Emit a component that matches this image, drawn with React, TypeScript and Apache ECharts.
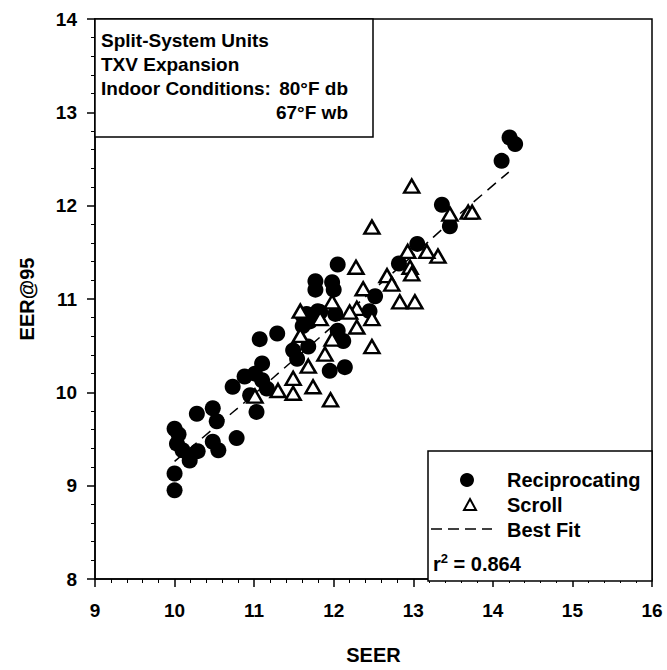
import React, { useEffect, useRef } from "react";
import * as echarts from "echarts";

const recipX = [10.0, 10.0, 10.0, 10.03, 10.1, 10.19, 10.05, 10.29, 10.28, 10.48, 10.53, 10.48, 10.55, 10.78, 10.73, 10.88, 11.03, 11.1, 11.01, 10.95, 11.1, 11.16, 11.07, 11.29, 11.49, 11.54, 11.68, 11.61, 11.7, 11.83, 11.77, 11.77, 11.98, 12.0, 12.05, 11.66, 11.8, 12.02, 11.61, 12.05, 12.12, 11.95, 12.14, 12.52, 12.45, 12.82, 13.05, 13.36, 13.46, 14.21, 14.28, 14.11];
const recipY = [8.95, 9.13, 9.61, 9.45, 9.38, 9.27, 9.55, 9.37, 9.77, 9.83, 9.69, 9.47, 9.38, 9.51, 10.06, 10.17, 9.79, 10.31, 10.2, 9.97, 10.13, 10.04, 10.57, 10.63, 10.45, 10.36, 10.49, 10.82, 10.76, 10.86, 11.19, 11.1, 11.18, 11.1, 11.37, 10.84, 10.87, 10.84, 10.71, 10.66, 10.55, 10.23, 10.27, 11.03, 10.87, 11.38, 11.59, 12.01, 11.78, 12.73, 12.66, 12.48];

const scrollX = [12.98, 12.48, 12.28, 12.37, 12.67, 12.73, 12.96, 12.98, 13.31, 13.17, 12.93, 12.83, 13.02, 12.48, 12.29, 12.2, 12.29, 12.48, 11.58, 11.83, 11.98, 11.58, 11.98, 11.89, 11.68, 11.49, 11.74, 11.3, 11.96, 11.49, 11.01, 13.46, 13.69, 13.74];
const scrollY = [12.21, 11.77, 11.34, 11.11, 11.25, 11.16, 11.34, 11.27, 11.46, 11.51, 11.51, 10.97, 10.97, 10.79, 10.9, 10.86, 10.7, 10.49, 10.87, 10.79, 10.97, 10.61, 10.57, 10.41, 10.28, 10.15, 10.06, 10.02, 9.92, 9.99, 9.96, 11.91, 11.93, 11.93];

const fitX = [10.0, 10.5, 11.0, 11.5, 12.0, 12.5, 13.0, 13.5, 14.2];
const fitY = [9.26, 9.62, 9.98, 10.35, 10.72, 11.1, 11.47, 11.85, 12.36];

const xTicks = [9, 10, 11, 12, 13, 14, 15, 16];
const yTicks = [8, 9, 10, 11, 12, 13, 14];

const boxLines = ["Split-System Units", "TXV Expansion", "Indoor Conditions:"];
const legendNames = ["Reciprocating", "Scroll", "Best Fit"];
const r2Value = "0.864";

const FONT = "'Liberation Sans', Arial, sans-serif";

export default function App() {
  const ref = useRef<HTMLDivElement>(null);
  useEffect(() => {
    document.body.style.margin = "0";
    const chart = echarts.init(ref.current!, undefined, { renderer: "svg" });
    const zip = (xs: number[], ys: number[]) => xs.map((x, i) => [x, ys[i]]);
    const txt = (text: string, x: number, y: number, extra: any = {}) => ({
      type: "text",
      x,
      y,
      z: 12,
      style: {
        text,
        font: `bold 19px ${FONT}`,
        fill: "#000",
        textVerticalAlign: "middle",
        ...extra,
      },
    });
    const axisText = { fontSize: 19, fontWeight: "bold", color: "#000", fontFamily: FONT };
    chart.setOption({
      animation: false,
      backgroundColor: "#fff",
      textStyle: { fontFamily: FONT },
      grid: { left: 95, right: 15, top: 19, bottom: 89, show: true, borderColor: "#000", borderWidth: 1.5 },
      xAxis: {
        type: "value",
        min: xTicks[0],
        max: xTicks[xTicks.length - 1],
        interval: 1,
        name: "SEER",
        nameLocation: "middle",
        nameGap: 66,
        nameTextStyle: { ...axisText, fontSize: 20 },
        axisLine: { lineStyle: { color: "#000", width: 1.5 } },
        axisTick: { length: 8, lineStyle: { color: "#000", width: 1.5 } },
        minorTick: { show: true, splitNumber: 5, length: 4, lineStyle: { color: "#000", width: 1 } },
        splitLine: { show: false },
        axisLabel: { ...axisText, margin: 22 },
      },
      yAxis: {
        type: "value",
        min: yTicks[0],
        max: yTicks[yTicks.length - 1],
        interval: 1,
        name: "EER@95",
        nameLocation: "middle",
        nameGap: 58,
        nameTextStyle: { ...axisText, fontSize: 20 },
        axisLine: { lineStyle: { color: "#000", width: 1.5 } },
        axisTick: { length: 8, lineStyle: { color: "#000", width: 1.5 } },
        minorTick: { show: true, splitNumber: 5, length: 4, lineStyle: { color: "#000", width: 1 } },
        splitLine: { show: false },
        axisLabel: { ...axisText, margin: 18 },
      },
      series: [
        {
          name: legendNames[2],
          type: "line",
          data: zip(fitX, fitY),
          symbol: "none",
          smooth: true,
          lineStyle: { color: "#000", width: 1.5, type: [11, 7] },
          z: 1,
        },
        {
          name: legendNames[0],
          type: "scatter",
          data: zip(recipX, recipY),
          symbol: "circle",
          symbolSize: 16,
          itemStyle: { color: "#000", opacity: 1 },
          z: 2,
        },
        {
          name: legendNames[1],
          type: "scatter",
          data: zip(scrollX, scrollY),
          symbol: "triangle",
          symbolSize: [15, 13],
          itemStyle: { color: "#fff", borderColor: "#000", borderWidth: 2.5, opacity: 1 },
          z: 3,
        },
      ],
      graphic: [
        { type: "rect", z: 10, shape: { x: 95, y: 19, width: 278, height: 118 }, style: { fill: "#fff", stroke: "#000", lineWidth: 1.5 } },
        txt(boxLines[0], 101, 40),
        txt(boxLines[1], 101, 64),
        txt(boxLines[2], 101, 88),
        txt("80°F db", 348, 88, { textAlign: "right" }),
        txt("67°F wb", 348, 112, { textAlign: "right" }),
        { type: "rect", z: 10, shape: { x: 428, y: 451, width: 224, height: 130 }, style: { fill: "#fff", stroke: "#000", lineWidth: 1.5 } },
        { type: "circle", z: 12, shape: { cx: 467, cy: 480, r: 7 }, style: { fill: "#000" } },
        { type: "polygon", z: 12, shape: { points: [[470, 499], [476, 510], [464, 510]] }, style: { fill: "#fff", stroke: "#000", lineWidth: 2 } },
        { type: "line", z: 12, shape: { x1: 431, y1: 529, x2: 492, y2: 529 }, style: { stroke: "#000", lineWidth: 1.5, lineDash: [11, 6] } },
        txt(legendNames[0], 507, 480, { font: `bold 20px ${FONT}` }),
        txt(legendNames[1], 507, 505, { font: `bold 20px ${FONT}` }),
        txt(legendNames[2], 507, 530, { font: `bold 20px ${FONT}` }),
        {
          type: "text",
          x: 433,
          y: 563,
          z: 12,
          style: {
            text: "{b|r}{s|2}{b| = " + r2Value + "}",
            textVerticalAlign: "middle",
            rich: {
              b: { font: `bold 20px ${FONT}`, fill: "#000", verticalAlign: "bottom" },
              s: { font: `bold 13px ${FONT}`, fill: "#000", verticalAlign: "top", padding: [0, 0, 9, 0] },
            },
          },
        },
      ],
    });
    return () => chart.dispose();
  }, []);
  return <div ref={ref} style={{ width: 667, height: 670 }} />;
}
